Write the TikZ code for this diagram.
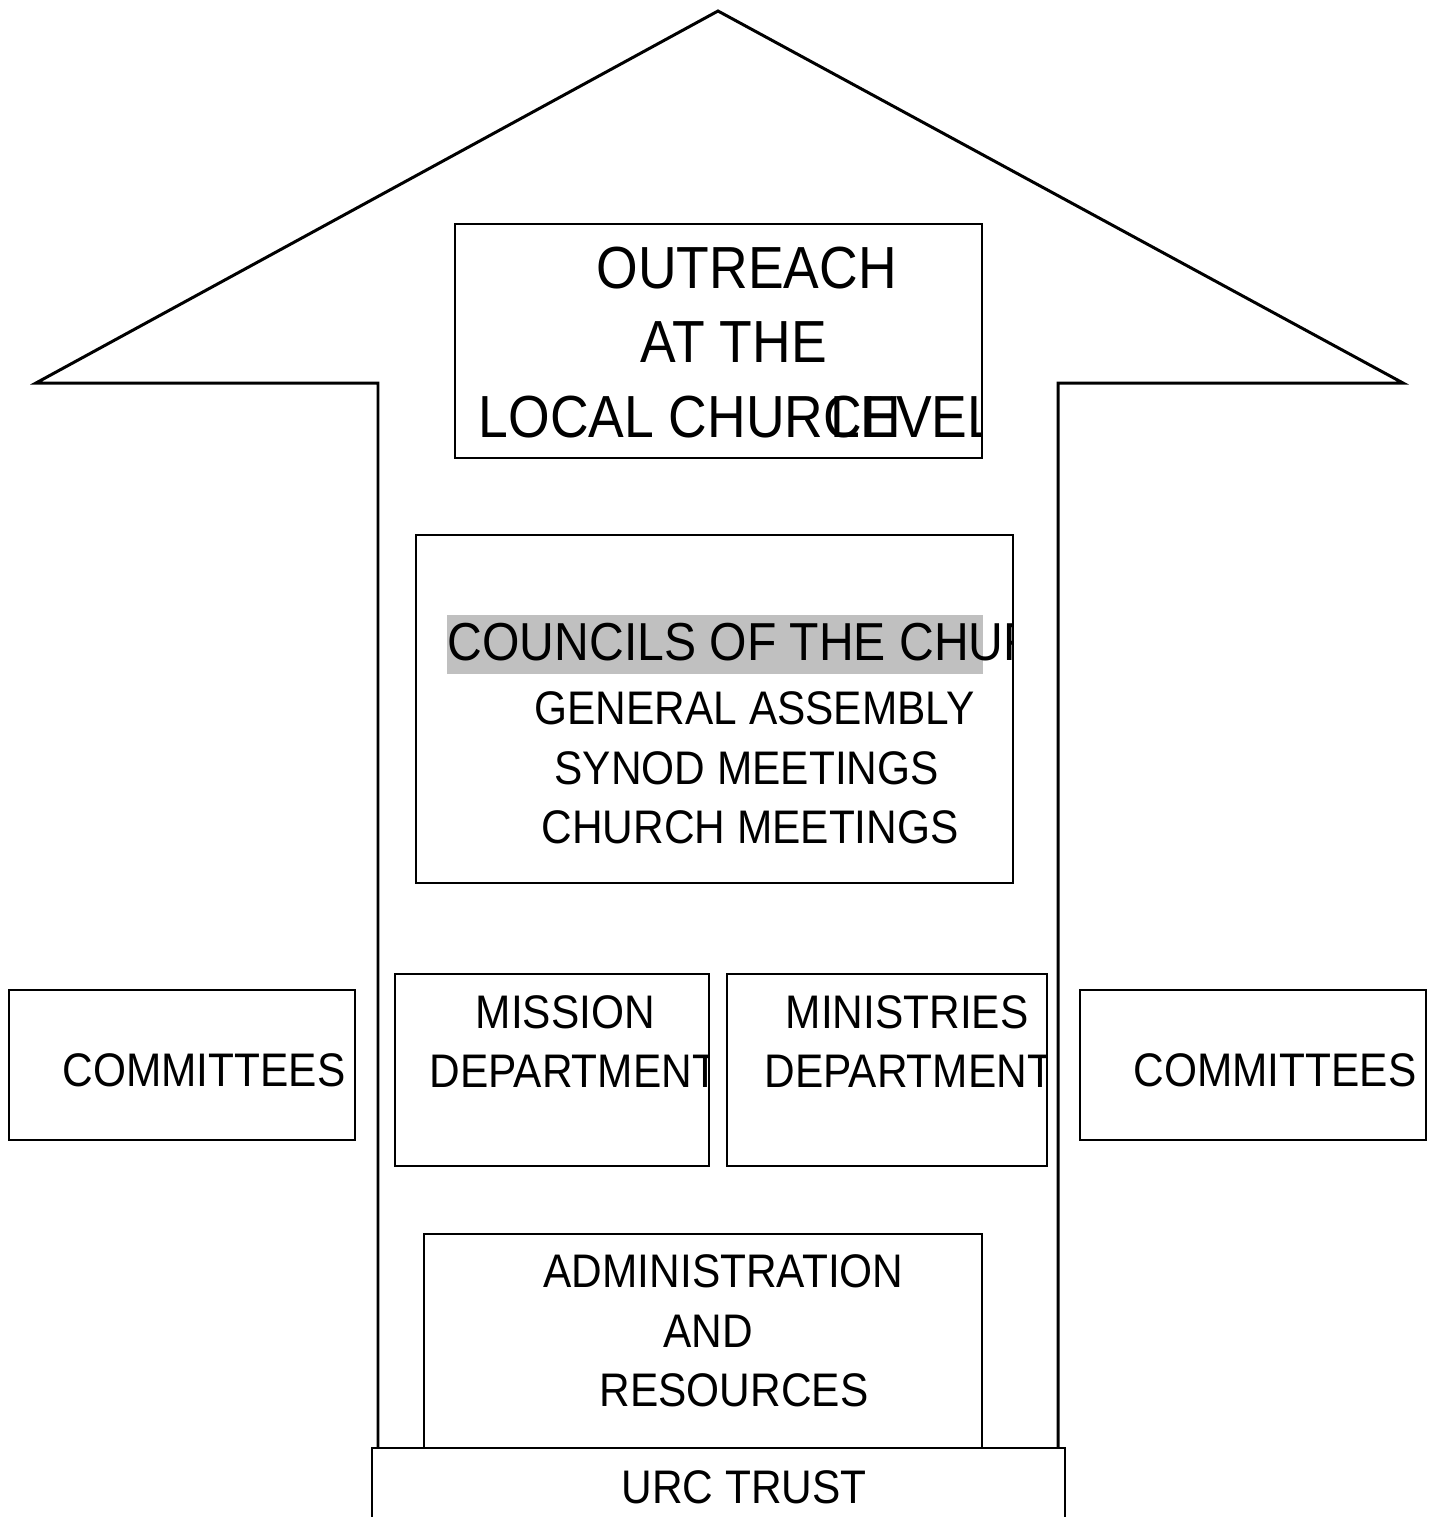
\documentclass[tikz,border=0pt]{standalone}
\usepackage{fontspec}
\setmainfont{Liberation Sans}
\usetikzlibrary{positioning}

\definecolor{hilite}{RGB}{192,192,192}
\newcommand{\nar}[1]{\scalebox{0.9}[1]{#1}}

\begin{document}
\begin{tikzpicture}
        [x=0.01cm,y=-0.01cm,
        arrowline/.style={draw,line width=0.85pt,line join=miter},
        box/.style={draw,line width=0.55pt,rectangle,inner sep=0pt,outer sep=0pt,anchor=north west},
        big/.style={inner sep=0pt,anchor=base west,font=\fontsize{16.9}{20}\selectfont},
        mid/.style={inner sep=0pt,anchor=base west,font=\fontsize{15.2}{18}\selectfont},
        small/.style={inner sep=0pt,anchor=base west,font=\fontsize{13.4}{16}\selectfont}]
        \useasboundingbox (0,0) rectangle (1435,1517);

        % the big arrow
        \draw[arrowline] (378,1448) -- (378,383) -- (36,383) -- (718,11)
            -- (1403,383) -- (1058,383) -- (1058,1448);

        % boxes
        \node[box,minimum width=5.27cm,minimum height=2.34cm] (out) at (455,224) {};
        \node[box,minimum width=5.97cm,minimum height=3.48cm] (cou) at (416,535) {};
        \node[box,minimum width=3.46cm,minimum height=1.50cm] (comL) at (9,990) {};
        \node[box,minimum width=3.14cm,minimum height=1.92cm] (mis) at (395,974) {};
        \node[box,minimum width=3.20cm,minimum height=1.92cm] (min) at (727,974) {};
        \node[box,minimum width=3.46cm,minimum height=1.50cm] (comR) at (1080,990) {};
        \node[box,minimum width=5.58cm,minimum height=2.40cm] (adm) at (424,1234) {};
        \node[box,fill=white,minimum width=6.93cm,minimum height=1.20cm] (urc) at (372,1448) {};

        % texts, cut at the box edges
        \begin{scope}
            \clip (out.south west) rectangle (out.north east);
            \node[big] (outreach) at (596,288) {\nar{OUTREACH}};
            \node[big] (atthe) at (640,362) {\nar{AT THE}};
            \node[big] (local) at (478,437) {\nar{LOCAL CHURCH}};
            \node[big] (level) at (830,437) {\nar{LEVEL}};
        \end{scope}
        \begin{scope}
            \clip (cou.south west) rectangle (cou.north east);
            \node[fill=hilite,inner sep=0pt,anchor=north west,minimum width=5.36cm,minimum height=0.59cm] (hl) at (446,614) {};
            \node[mid] (councils) at (447,660) {\nar{COUNCILS OF THE CHURCH}};
            \node[small] (general) at (534,724) {\nar{GENERAL ASSEMBLY}};
            \node[small] (synod) at (554,784) {\nar{SYNOD MEETINGS}};
            \node[small] (church) at (541,843) {\nar{CHURCH MEETINGS}};
        \end{scope}
        \begin{scope}
            \clip (mis.south west) rectangle (mis.north east);
            \node[small] (mission) at (475,1028) {\nar{MISSION}};
            \node[small] (misdep) at (429,1087) {\nar{DEPARTMENT}};
        \end{scope}
        \begin{scope}
            \clip (min.south west) rectangle (min.north east);
            \node[small] (ministries) at (785,1028) {\nar{MINISTRIES}};
            \node[small] (mindep) at (764,1087) {\nar{DEPARTMENT}};
        \end{scope}
        \node[small] (comLtext) at (62,1086) {\nar{COMMITTEES}};
        \node[small] (comRtext) at (1133,1086) {\nar{COMMITTEES}};
        \node[small] (admin) at (543,1287) {\nar{ADMINISTRATION}};
        \node[small] (and) at (663,1347) {\nar{AND}};
        \node[small] (resources) at (599,1406) {\nar{RESOURCES}};
        \node[small] (trust) at (621,1503) {\nar{URC TRUST}};
\end{tikzpicture}
\end{document}
